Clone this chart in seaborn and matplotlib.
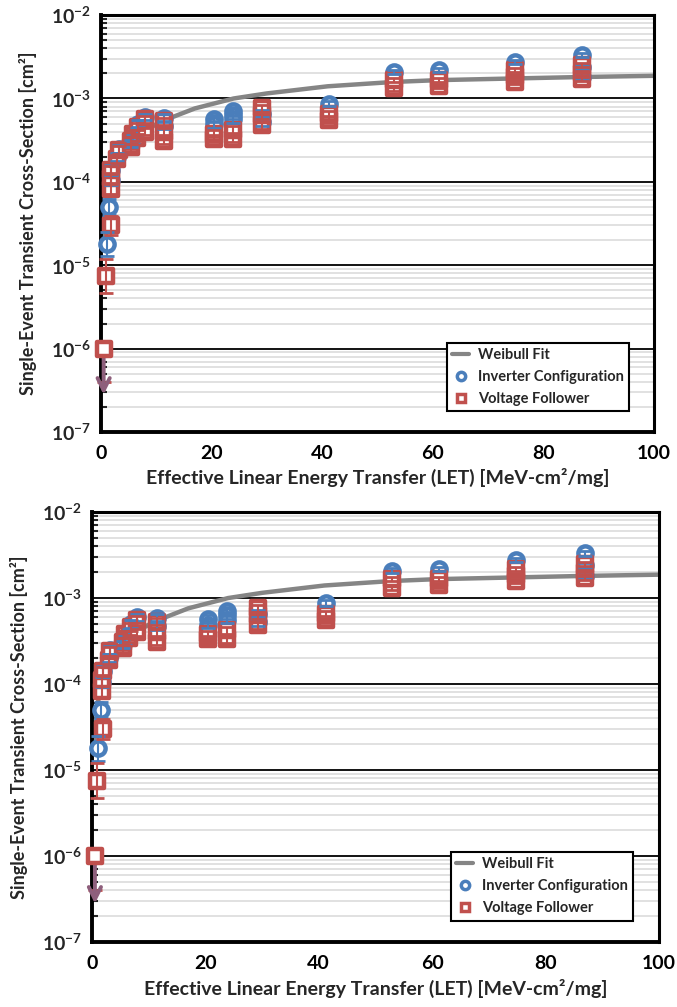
import numpy as np
import pandas as pd
import matplotlib
matplotlib.use('Agg')
import matplotlib.pyplot as plt
import seaborn as sns
from matplotlib.lines import Line2D
from matplotlib.ticker import LogLocator, FuncFormatter, NullFormatter, MultipleLocator

# Weibull fit curve
fit_let = [0.3, 1, 2, 4, 7, 11, 13, 17, 24, 30, 41, 53, 61, 75, 87, 100]
fit_xs = [1.8e-5, 6e-5, 1.2e-4, 2.3e-4, 3.7e-4, 5.4e-4, 6.0e-4, 7.6e-4, 1.0e-3,
          1.15e-3, 1.4e-3, 1.58e-3, 1.66e-3, 1.74e-3, 1.81e-3, 1.87e-3]

# Inverter configuration measurements
inv_let = [1.1, 1.5, 1.8, 1.9, 3.0, 3.2, 5.5, 5.8, 6.5, 6.8, 8.0, 11.4, 11.4, 20.5, 20.5,
           23.8, 23.8, 23.8, 29.2, 29.2, 41.3, 53.0, 61.2, 74.9, 87.0, 87.0, 87.0]
inv_xs = [1.8e-5, 5.0e-5, 1.05e-4, 1.4e-4, 2.0e-4, 2.5e-4, 2.9e-4, 3.3e-4, 4.0e-4, 5.0e-4,
          6.0e-4, 5.9e-4, 4.7e-4, 5.7e-4, 4.9e-4, 7.0e-4, 6.3e-4, 5.6e-4, 6.6e-4, 5.2e-4,
          8.7e-4, 2.09e-3, 2.19e-3, 2.75e-3, 3.3e-3, 2.4e-3, 1.8e-3]
inv_err = [0.4, 0.25, 0.15, 0.15, 0.12, 0.12, 0.1, 0.1, 0.1, 0.1, 0.1, 0.1, 0.1, 0.1, 0.1,
           0.1, 0.1, 0.1, 0.1, 0.1, 0.08, 0.06, 0.06, 0.06, 0.06, 0.06, 0.06]

# Voltage follower measurements
vf_let = [0.9, 1.9, 1.8, 1.8, 1.9, 3.0, 3.2, 5.5, 5.5, 5.8, 6.5, 6.8, 8.0, 8.0, 11.4, 11.4,
          11.4, 20.5, 20.5, 23.8, 23.8, 29.2, 29.2, 29.2, 41.3, 41.3, 53.0, 53.0, 61.2, 61.2,
          74.9, 74.9, 74.9, 87.0, 87.0, 87.0]
vf_xs = [7.5e-6, 3.0e-5, 8.2e-5, 1.1e-4, 1.4e-4, 1.9e-4, 2.4e-4, 2.6e-4, 3.1e-4, 3.8e-4,
         3.4e-4, 4.6e-4, 4.0e-4, 5.6e-4, 3.1e-4, 4.0e-4, 5.3e-4, 3.3e-4, 3.8e-4, 3.3e-4,
         4.2e-4, 4.8e-4, 6.3e-4, 7.6e-4, 5.5e-4, 6.6e-4, 1.32e-3, 1.66e-3, 1.4e-3, 1.66e-3,
         1.58e-3, 1.85e-3, 2.19e-3, 1.7e-3, 2.0e-3, 2.5e-3]
vf_err = [0.6, 0.3, 0.15, 0.15, 0.12, 0.12, 0.12, 0.1, 0.1, 0.1, 0.1, 0.1, 0.1, 0.1, 0.1,
          0.1, 0.1, 0.1, 0.1, 0.1, 0.1, 0.1, 0.1, 0.1, 0.08, 0.08, 0.06, 0.06, 0.06, 0.06,
          0.06, 0.06, 0.06, 0.06, 0.06, 0.06]

# upper limit (no events) point
vf_limit_let = [0.5]
vf_limit_xs = [1.0e-6]
vf_limit_low = [4.0e-7]
vf_limit_tip = [2.6e-7]

BLUE = '#4a7ebb'
RED = '#c0504d'
GRAY = '#858585'

sns.set_style('white')
plt.rcParams['font.family'] = ['Lato', 'DejaVu Sans']
plt.rcParams['font.weight'] = 'bold'
plt.rcParams['mathtext.default'] = 'regular'

inv = pd.DataFrame({'let': inv_let, 'xs': inv_xs, 'err': inv_err})
vf = pd.DataFrame({'let': vf_let, 'xs': vf_xs, 'err': vf_err})
fit = pd.DataFrame({'let': fit_let, 'xs': fit_xs})

fig = plt.figure(figsize=(6.77, 10.07), dpi=100)
ax1 = fig.add_axes([0.149, 0.571, 0.817, 0.414])
ax2 = fig.add_axes([0.136, 0.0645, 0.837, 0.427])


def draw(ax):
    sns.lineplot(data=fit, x='let', y='xs', ax=ax, color=GRAY, lw=3.2, zorder=2,
                 sort=True, legend=False)
    for df, col, mk, z in [(inv, BLUE, 'o', 3), (vf, RED, 's', 4)]:
        lo = df['xs'] - df['xs'] / (1 + df['err'])
        hi = df['xs'] * df['err']
        ax.errorbar(df['let'], df['xs'], yerr=[lo, hi], fmt='none', ecolor=col,
                    elinewidth=1.5, capsize=5, capthick=2, zorder=z + 1.5, clip_on=False)
        sns.scatterplot(data=df, x='let', y='xs', ax=ax, marker=mk, s=105,
                        facecolor='white', edgecolor=col, linewidth=3.2,
                        zorder=z, clip_on=False, legend=False)
    # upper limit point with arrow
    ax.errorbar(vf_limit_let, vf_limit_xs,
                yerr=[[vf_limit_xs[0] - vf_limit_low[0]], [0]], fmt='none',
                ecolor=RED, elinewidth=1.5, capsize=5, capthick=2, zorder=5, clip_on=False)
    ax.annotate('', xy=(vf_limit_let[0], vf_limit_tip[0]),
                xytext=(vf_limit_let[0], vf_limit_xs[0]),
                arrowprops=dict(arrowstyle='->', color='#8e5f7c', lw=2.8,
                                mutation_scale=22), zorder=5, annotation_clip=False)
    ax.scatter(vf_limit_let, vf_limit_xs, marker='s', s=105, facecolor='white',
               edgecolor=RED, linewidth=3.2, zorder=6, clip_on=False)

    ax.set_yscale('log')
    ax.set_xlim(0, 100)
    ax.set_ylim(1e-7, 1e-2)
    ax.xaxis.set_major_locator(MultipleLocator(20))
    ax.yaxis.set_major_locator(LogLocator(base=10, numticks=10))
    ax.yaxis.set_minor_locator(LogLocator(base=10, subs=np.arange(2, 10), numticks=20))
    ax.yaxis.set_major_formatter(FuncFormatter(lambda v, p: r'$10^{%d}$' % round(np.log10(v))))
    ax.yaxis.set_minor_formatter(NullFormatter())

    ax.grid(False)
    ax.grid(True, axis='y', which='minor', color='#dedede', lw=1.3, zorder=0)
    ax.grid(True, axis='y', which='major', color='black', lw=1.3, zorder=0.5)
    ax.set_axisbelow(True)

    ax.tick_params(axis='x', which='major', direction='in', length=6, width=2,
                   labelsize=14, pad=9, top=False, colors='black')
    ax.tick_params(axis='y', which='major', direction='in', length=0, labelsize=14,
                   pad=7, right=False)
    ax.tick_params(axis='y', which='minor', direction='in', length=4, width=1.5,
                   left=True, right=False)
    for lab in ax.get_xticklabels() + ax.get_yticklabels():
        lab.set_fontweight('bold')
    for side in ['left', 'bottom']:
        ax.spines[side].set_linewidth(2.8)
        ax.spines[side].set_color('black')
    for side in ['top', 'right']:
        ax.spines[side].set_linewidth(2.2)
        ax.spines[side].set_color('black')

    ax.set_xlabel('Effective Linear Energy Transfer (LET) [MeV-cm²/mg]',
                  fontsize=14, fontweight='bold', labelpad=5)
    ax.set_ylabel('Single-Event Transient Cross-Section [cm²]',
                  fontsize=13, fontweight='bold', labelpad=10)

    handles = [
        Line2D([], [], color=GRAY, lw=3),
        Line2D([], [], color=BLUE, marker='o', ls='none', ms=6, mfc='white', mew=2.5),
        Line2D([], [], color=RED, marker='s', ls='none', ms=6, mfc='white', mew=2.5),
    ]
    leg = ax.legend(handles, ['Weibull Fit', 'Inverter Configuration', 'Voltage Follower'],
                    loc='lower right', bbox_to_anchor=(0.955, 0.05), fontsize=10.5,
                    frameon=True, fancybox=False, framealpha=1, edgecolor='black',
                    handlelength=1.2, handletextpad=0.6, labelspacing=0.55,
                    borderpad=0.35, borderaxespad=0)
    leg.get_frame().set_linewidth(1.5)
    for t in leg.get_texts():
        t.set_fontweight('bold')
    leg.set_zorder(10)


draw(ax1)
draw(ax2)

fig.savefig('out.png', dpi=100)
